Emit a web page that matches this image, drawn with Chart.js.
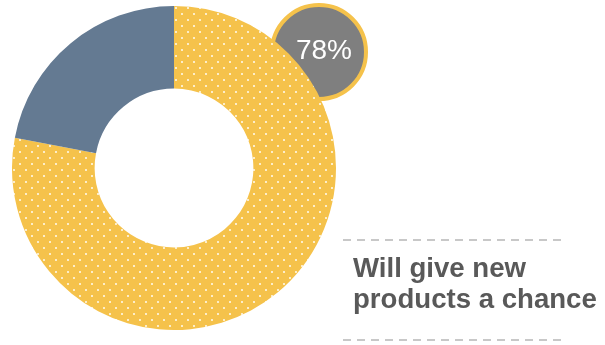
<!DOCTYPE html>
<html>
<head>
<meta charset="utf-8">
<script src="https://cdn.jsdelivr.net/npm/chart.js@4"></script>
<style>
html,body{margin:0;padding:0;background:#fff;}
#wrap{width:605px;height:345px;position:relative;}
</style>
</head>
<body>
<div id="wrap"><canvas id="c" width="605" height="345"></canvas></div>
<script>
const categories = ["Will give new products a chance", "Other"];
const values = [78, 22];
const badgeLabel = "78%";
const captionLines = ["Will give new", "products a chance"];

const YELLOW = "#F5C24B";
const BLUE = "#647A92";

function makePattern(ctx) {
  const t = document.createElement("canvas");
  t.width = 12; t.height = 12;
  const g = t.getContext("2d");
  g.fillStyle = YELLOW;
  g.fillRect(0, 0, 12, 12);
  g.fillStyle = "rgba(255,255,255,0.7)";
  g.fillRect(1, 1, 2, 2);
  g.fillRect(7, 7, 2, 2);
  return ctx.createPattern(t, "repeat");
}

const canvas = document.getElementById("c");
const ctx = canvas.getContext("2d");
const pattern = makePattern(ctx);

const badgePlugin = {
  id: "badge",
  beforeDatasetsDraw(chart) {
    const c = chart.ctx;
    c.save();
    c.beginPath();
    c.arc(319, 52, 47, 0, Math.PI * 2);
    c.fillStyle = "#7F7F7F";
    c.fill();
    c.lineWidth = 4;
    c.strokeStyle = YELLOW;
    c.stroke();
    c.fillStyle = "#FFFFFF";
    c.font = "28px 'Liberation Sans', Arial, sans-serif";
    c.textAlign = "center";
    c.textBaseline = "alphabetic";
    c.fillText(badgeLabel, 324, 59);
    c.restore();
  },
  afterDraw(chart) {
    const c = chart.ctx;
    c.save();
    c.strokeStyle = "#C8C8C8";
    c.lineWidth = 2;
    c.setLineDash([8, 6]);
    [240, 340].forEach(y => {
      c.beginPath();
      c.moveTo(343, y);
      c.lineTo(562, y);
      c.stroke();
    });
    c.setLineDash([]);
    c.fillStyle = "#595959";
    c.font = "bold 27.6px 'Liberation Sans', Arial, sans-serif";
    c.textAlign = "left";
    c.textBaseline = "alphabetic";
    c.fillText(captionLines[0], 353, 277);
    c.fillText(captionLines[1], 353, 308);
    c.restore();
  }
};

new Chart(canvas, {
  type: "doughnut",
  data: {
    labels: categories,
    datasets: [{
      data: values,
      backgroundColor: [pattern, BLUE],
      borderWidth: 0,
      hoverOffset: 0
    }]
  },
  options: {
    responsive: false,
    animation: false,
    cutout: "49%",
    layout: { padding: { left: 12, top: 6, right: 269, bottom: 15 } },
    plugins: { legend: { display: false }, tooltip: { enabled: false } }
  },
  plugins: [badgePlugin]
});
</script>
</body>
</html>
